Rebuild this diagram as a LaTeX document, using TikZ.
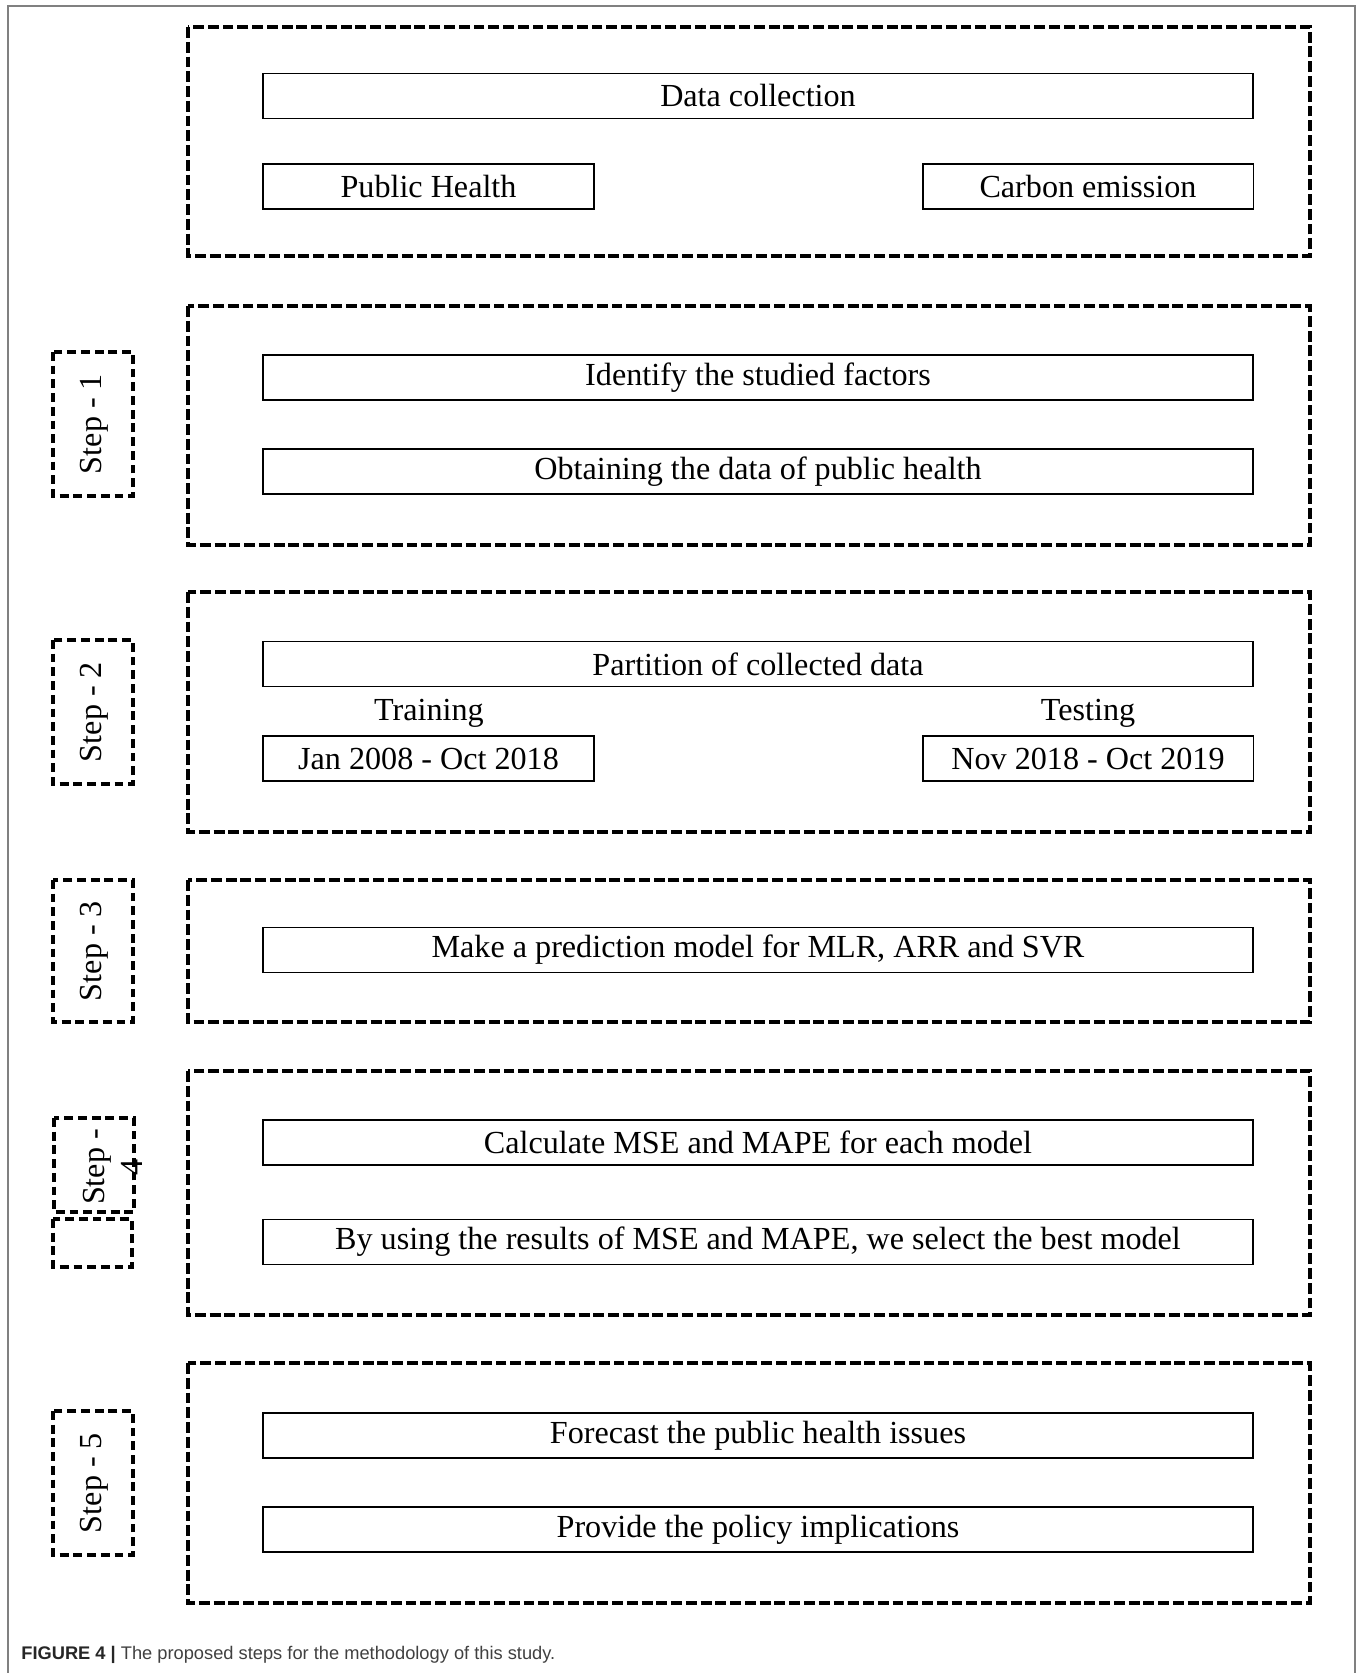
\documentclass[tikz,border=0pt]{standalone}
\usepackage{fontspec}
\setmainfont{Liberation Serif}
\newfontfamily\capfont{Liberation Sans}
\usetikzlibrary{positioning}

\tikzset{
  phase/.style={line width=1.9pt, dash pattern=on 6.2pt off 2.2pt},
  stepbox/.style={line width=1.9pt, dash pattern=on 5pt off 2.8pt},
  itembox/.style={draw, line width=1.1pt, minimum height=0.9cm, inner sep=0pt},
  wide/.style={itembox, minimum width=19.8cm},
  half/.style={itembox, minimum width=6.62cm},
  steplabel/.style={rotate=90, align=center, inner sep=0pt}
}

\begin{document}
\begin{tikzpicture}[x=0.02cm, y=-0.02cm, font=\fontsize{18.3}{21.5}\selectfont]
    \useasboundingbox (0,0) rectangle (1360,1673);
    \draw[gray, line width=0.8pt] (8,1673)--(8,6)--(1355,6)--(1355,1673);

    % dashed frames of the phases
    \draw[phase] (188,27) rectangle (1310,256);
    \draw[phase] (188,306) rectangle (1310,545);
    \draw[phase] (188,592) rectangle (1310,832);
    \draw[phase] (188,880) rectangle (1310,1022);
    \draw[phase] (188,1071) rectangle (1310,1315);
    \draw[phase] (188,1363) rectangle (1310,1603);

    % step tags
    \draw[stepbox] (53,352) rectangle (133,496);
    \draw[stepbox] (53,640) rectangle (133,784);
    \draw[stepbox] (53,880) rectangle (133,1022);
    \draw[stepbox] (54,1118) rectangle (134,1212);
    \draw[stepbox] (53,1219) rectangle (132,1267);
    \draw[stepbox] (53,1411) rectangle (133,1555);
    \node[steplabel] (s1) at (94,424) {Step - 1};
    \node[steplabel] (s2) at (94,712) {Step - 2};
    \node[steplabel] (s3) at (94,951) {Step - 3};
    \node[steplabel] (s4) at (113,1167) {Step -\\4};
    \node[steplabel] (s5) at (94,1483) {Step - 5};

    % data collection
    \node[wide] (dc) at (758,96) {Data collection};
    \node[half] (ph) at (428.5,186.5) {Public Health};
    \node[half] (ce) at (1088,186.5) {Carbon emission};

    % step 1
    \node[wide] (idf) at (758,377.5) {Identify the studied factors};
    \node[wide] (obt) at (758,471.5) {Obtaining the data of public health};

    % step 2
    \node[wide] (part) at (758,664) {Partition of collected data};
    \node (train) at (429,713) {Training};
    \node (test) at (1088,713) {Testing};
    \node[half] (jan) at (428.5,758.5) {Jan 2008 - Oct 2018};
    \node[half] (nov) at (1088,758.5) {Nov 2018 - Oct 2019};

    % step 3
    \node[wide] (pred) at (758,950) {Make a prediction model for MLR, ARR and SVR};

    % step 4
    \node[wide] (calc) at (758,1142.5) {Calculate MSE and MAPE for each model};
    \node[wide] (best) at (758,1242) {By using the results of MSE and MAPE, we select the best model};

    % step 5
    \node[wide] (fcst) at (758,1435.5) {Forecast the public health issues};
    \node[wide] (pol) at (758,1529.5) {Provide the policy implications};

    \node[anchor=base west, inner sep=0pt, text=black!75] (cap) at (21,1659)
        {\capfont\fontsize{10.4}{12}\selectfont\textbf{\color{black!85}FIGURE 4 |} The proposed steps for the methodology of this study.};
\end{tikzpicture}
\end{document}
